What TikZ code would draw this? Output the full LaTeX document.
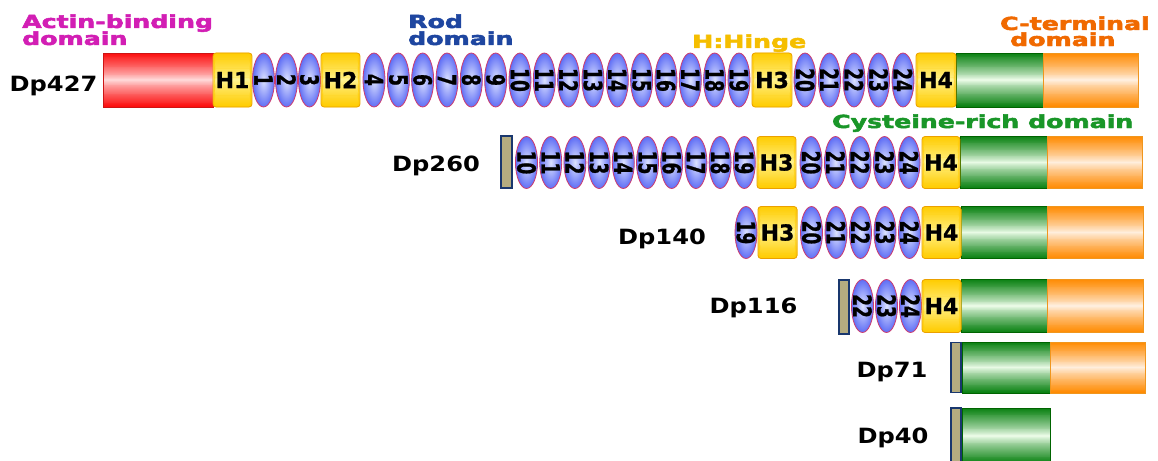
\documentclass[tikz,border=0pt]{standalone}
\usepackage{fontspec}
\usetikzlibrary{shapes.geometric,calc}
\newfontfamily\djvfont{DejaVu Sans}
\newfontfamily\heavyfont{DejaVu Sans Bold}[FakeBold=1.2]
\newfontfamily\domfont{DejaVu Sans Bold}[FakeBold=2.5]
\definecolor{cred}{RGB}{252,12,12}
\definecolor{credl}{RGB}{255,222,222}
\definecolor{credd}{RGB}{205,20,20}
\definecolor{chy}{RGB}{255,204,0}
\definecolor{chyl}{RGB}{255,245,150}
\definecolor{chyd}{RGB}{235,160,0}
\definecolor{cbl}{RGB}{95,110,245}
\definecolor{cbll}{RGB}{220,226,255}
\definecolor{cbld}{RGB}{205,60,110}
\definecolor{cgr}{RGB}{8,128,16}
\definecolor{cgrl}{RGB}{242,255,238}
\definecolor{cgrd}{RGB}{0,100,0}
\definecolor{cor}{RGB}{255,138,0}
\definecolor{corl}{RGB}{255,242,230}
\definecolor{cord}{RGB}{240,150,30}
\definecolor{cgy}{RGB}{180,172,128}
\definecolor{cgyd}{RGB}{25,55,110}
\definecolor{tmag}{RGB}{210,30,180}
\definecolor{tblu}{RGB}{30,70,160}
\definecolor{tgold}{RGB}{245,190,0}
\definecolor{tora}{RGB}{240,105,0}
\definecolor{tgrn}{RGB}{25,150,40}
\newcommand\lblx[1]{\scalebox{1.40}[1]{#1}}
\newcommand\dpx[1]{\scalebox{1.15}[1]{#1}}
\newcommand\beadtxt[1]{\makebox[0pt]{\rotatebox{-90}{\scalebox{0.85}[1.25]{#1}}}}
\newcommand\vgrad[2]{%
  \coordinate (ppnw) at (path picture bounding box.north west);
  \coordinate (ppse) at (path picture bounding box.south east);
  \fill[#1] (ppnw) rectangle (ppse);
  \foreach \i in {0,...,59}{%
    \pgfmathsetmacro\gmix{100*(abs((\i+0.5)/60-0.5)*2)^0.8}%
    \fill[#1!\gmix!#2] ($(ppnw)!{\i/60}!(ppnw|-ppse)$) rectangle ($(ppse|-ppnw)!{(\i+1.5)/60}!(ppse)$);
  }%
}
\tikzset{
  dom/.style={anchor=base west, inner sep=0pt, font=\domfont\fontsize{18}{20}\selectfont},
  dplab/.style={anchor=base, inner sep=0pt, font=\djvfont\bfseries\fontsize{21}{23}\selectfont},
  box/.style={rectangle, inner sep=0pt, line width=0.8pt},
  redbox/.style={box, draw=credd, path picture={\vgrad{cred}{credl}}},
  hinge/.style={box, rounded corners=3pt, draw=chyd, path picture={\vgrad{chy}{chyl}}, font=\heavyfont\fontsize{22}{24}\selectfont},
  bead/.style={ellipse, inner sep=0pt, minimum width=22pt, draw=cbld, line width=0.8pt, inner color=cbll, outer color=cbl, font=\heavyfont\fontsize{20}{22}\selectfont},
  crbox/.style={box, draw=cgrd, path picture={\vgrad{cgr}{cgrl}}},
  ctbox/.style={box, draw=cord, path picture={\vgrad{cor}{corl}}},
  gbar/.style={box, draw=cgyd, fill=cgy, line width=1.8pt},
}
\begin{document}
\begin{tikzpicture}[x=1pt,y=-1pt]
\useasboundingbox (0,0) rectangle (1158,460);
\fill[white] (0,0) rectangle (1158,460);
\clip (0,0) rectangle (1158,460);
% domain labels
\node[dom, text=tmag] (tab1) at (22,28) {\lblx{Actin-binding}};
\node[dom, text=tmag] (tab2) at (22,45) {\lblx{domain}};
\node[dom, text=tblu] (trod1) at (408,28) {\lblx{Rod}};
\node[dom, text=tblu] (trod2) at (408,45) {\lblx{domain}};
\node[dom, text=tgold] (thinge) at (692,48) {\lblx{H:Hinge}};
\node[dom, text=tora] (tct1) at (1000,30) {\lblx{C-terminal}};
\node[dom, text=tora] (tct2) at (1010,46) {\lblx{domain}};
\node[dom, text=tgrn] (tcys) at (832,128) {\lblx{Cysteine-rich domain}};
% isoform labels
\node[dplab] (l427) at (53.5,91.5) {\dpx{Dp427}};
\node[dplab] (l260) at (436,171) {\dpx{Dp260}};
\node[dplab] (l140) at (662,244.5) {\dpx{Dp140}};
\node[dplab] (l116) at (753.5,313) {\dpx{Dp116}};
\node[dplab] (l71) at (892,377.5) {\dpx{Dp71}};
\node[dplab] (l40) at (893,443.5) {\dpx{Dp40}};
% Row 1: Dp427
\begin{scope}[every node/.append style={minimum height=54pt}]
\node[redbox, minimum width=110pt] (r1act) at (158,80) {};
\node[hinge, minimum width=39pt] (r1h1) at (232.5,80) {H1};
\foreach \k/\x in {1/263.5,2/286.5,3/309.5} \node[bead] (a\k) at (\x,80) {\beadtxt{\k}};
\node[hinge, minimum width=39pt] (r1h2) at (340.5,80) {H2};
\foreach \k in {4,...,19} \node[bead] (a\k) at ({374+(\k-4)*24.33},80) {\beadtxt{\k}};
\node[hinge, minimum width=40pt] (r1h3) at (772,80) {H3};
\foreach \k in {20,...,24} \node[bead] (a\k) at ({805+(\k-20)*24.5},80) {\beadtxt{\k}};
\node[crbox, minimum width=87pt] (r1cr) at (999.5,80) {};
\node[ctbox, minimum width=95pt] (r1ct) at (1090.5,80) {};
\node[hinge, minimum width=40pt] (r1h4) at (936,80) {H4};
\end{scope}
% Row 2: Dp260
\begin{scope}[every node/.append style={minimum height=52pt}]
\foreach \k in {10,...,19} \node[bead] (b\k) at ({526.5+(\k-10)*24.2},162.5) {\beadtxt{\k}};
\node[hinge, minimum width=39pt] (r2h3) at (776.5,162.5) {H3};
\foreach \k in {20,...,24} \node[bead] (b\k) at ({811+(\k-20)*24.5},162.5) {\beadtxt{\k}};
\node[crbox, minimum width=87pt] (r2cr) at (1003.5,162.5) {};
\node[ctbox, minimum width=95pt] (r2ct) at (1094.5,162.5) {};
\node[hinge, minimum width=38pt] (r2h4) at (941,162.5) {H4};
\node[gbar, minimum width=11pt, minimum height=52pt] (r2g) at (506.5,162) {};
\end{scope}
% Row 3: Dp140
\begin{scope}[every node/.append style={minimum height=52pt}]
\node[bead] (c19) at (746,232.5) {\beadtxt{19}};
\node[hinge, minimum width=39pt] (r3h3) at (777.5,232.5) {H3};
\foreach \k in {20,...,24} \node[bead] (c\k) at ({811.5+(\k-20)*24.5},232.5) {\beadtxt{\k}};
\node[crbox, minimum width=86pt] (r3cr) at (1004,232.5) {};
\node[ctbox, minimum width=96pt] (r3ct) at (1095,232.5) {};
\node[hinge, minimum width=39pt] (r3h4) at (941.5,232.5) {H4};
\end{scope}
% Row 4: Dp116
\begin{scope}[every node/.append style={minimum height=53pt}]
\foreach \k/\x in {22/862.5,23/886.5,24/910.5} \node[bead] (d\k) at (\x,306) {\beadtxt{\k}};
\node[crbox, minimum width=86pt] (r4cr) at (1004,306) {};
\node[ctbox, minimum width=96pt] (r4ct) at (1095,306) {};
\node[hinge, minimum width=39pt] (r4h4) at (941.5,306) {H4};
\node[gbar, minimum width=10pt, minimum height=54pt] (r4g) at (844,307) {};
\end{scope}
% Row 5: Dp71
\node[crbox, minimum width=88pt, minimum height=51pt] (r5cr) at (1006,367.5) {};
\node[ctbox, minimum width=95pt, minimum height=51pt] (r5ct) at (1097.5,367.5) {};
\node[gbar, minimum width=10pt, minimum height=50pt] (r5g) at (956,367.5) {};
% Row 6: Dp40
\node[crbox, minimum width=88pt, minimum height=56pt] (r6cr) at (1006,436) {};
\node[gbar, minimum width=10pt, minimum height=56pt] (r6g) at (956,436) {};
\end{tikzpicture}
\end{document}
